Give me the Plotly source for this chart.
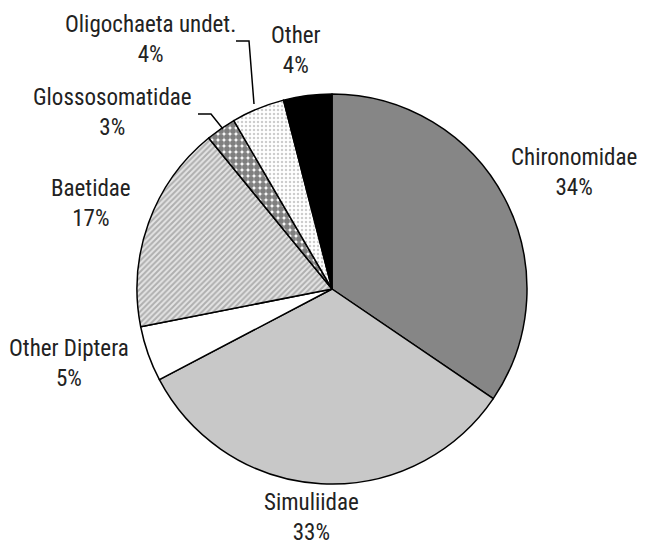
import plotly.graph_objects as go

W, H = 645, 545
OFF = 8  # page body margin offset

categories = ["Chironomidae", "Simuliidae", "Other Diptera", "Baetidae",
              "Glossosomatidae", "Oligochaeta undet.", "Other"]
values = [34.5, 32.8, 4.6, 17.2, 2.5, 4.4, 4.0]
pct_labels = ["34%", "33%", "5%", "17%", "3%", "4%", "4%"]

colors = ["#868686", "#c8c8c8", "#ffffff", "#e4e4e4", "#ffffff", "#ffffff", "#000000"]
pat_shapes = ["", "", "", "/", ".", ".", ""]
pat_fg = ["#000000", "#000000", "#000000", "#7a7a7a", "#000000", "#9a9a9a", "#000000"]
pat_size = [8, 8, 8, 4, 6, 4, 8]
pat_solid = [0.3, 0.3, 0.3, 0.5, 0.75, 0.3, 0.3]

# label centres (pixel positions of the label blocks)
label_pos = [(574, 172), (311, 517), (69, 363), (91, 203),
             (112, 113), (150, 39), (296, 50)]


def px(x, y):
    return (x - OFF) / W, 1 - (y - OFF) / H


dx0, dy0 = px(137, 485)
dx1, dy1 = px(527, 93)

fig = go.Figure(go.Pie(
    labels=categories,
    values=values,
    sort=False,
    direction="clockwise",
    rotation=0,
    textinfo="none",
    hoverinfo="label+percent",
    marker=dict(
        colors=colors,
        line=dict(color="#000000", width=1.5),
        pattern=dict(shape=pat_shapes, fgcolor=pat_fg, bgcolor=colors,
                     size=pat_size, solidity=pat_solid, fillmode="overlay"),
    ),
    domain=dict(x=[dx0, dx1], y=[dy0, dy1]),
    showlegend=False,
))

font = dict(family="Liberation Sans Narrow, Arial Narrow, Roboto Condensed, sans-serif",
            size=23, color="#222222")
for name, pct, (lx, ly) in zip(categories, pct_labels, label_pos):
    ax, ay = px(lx, ly)
    fig.add_annotation(x=ax, y=ay, xref="paper", yref="paper",
                       text=f"{name}<br>{pct}", showarrow=False,
                       xanchor="center", yanchor="middle", align="center",
                       font=font)

# leader lines for the two small slices
leaders = [
    [(198, 114), (211, 114), (223, 129)],
    [(236, 41), (249, 41), (254, 104)],
]
for pts in leaders:
    path = ""
    for i, (x, y) in enumerate(pts):
        X, Y = px(x, y)
        path += ("M" if i == 0 else " L") + f" {X} {Y}"
    fig.add_shape(type="path", path=path, xref="paper", yref="paper",
                  line=dict(color="#000000", width=1.5))

fig.update_layout(
    width=W, height=H,
    margin=dict(l=0, r=0, t=0, b=0),
    paper_bgcolor="#ffffff",
    plot_bgcolor="#ffffff",
)

fig.write_html("out.html")
